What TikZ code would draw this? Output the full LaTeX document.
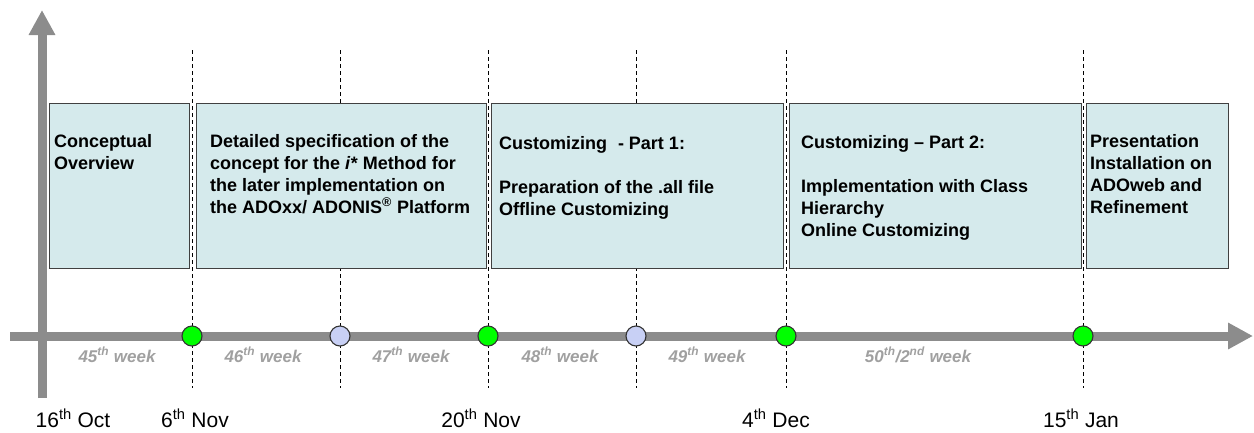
\documentclass[tikz,border=0pt]{standalone}
\usepackage{fontspec}
\setmainfont{Liberation Sans}
\usetikzlibrary{arrows.meta}
\definecolor{axisgray}{HTML}{8C8C8C}
\definecolor{boxfill}{HTML}{D5EAEC}
\definecolor{boxline}{HTML}{404040}
\definecolor{milegreen}{HTML}{00FF00}
\definecolor{mileblue}{HTML}{C8D0F5}
\definecolor{weekgray}{HTML}{A0A0A0}
\begin{document}
\begin{tikzpicture}[x=1pt,y=-1pt,
  axisline/.style={draw=axisgray, line width=9pt, -{Triangle[width=25pt,length=25pt]}},
  guide/.style={draw=black, line width=0.9pt, dash pattern=on 4pt off 3pt},
  phase/.style={rectangle, draw=boxline, line width=1.4pt, fill=boxfill, inner sep=0pt,
    anchor=north west, minimum height=165pt},
  phasetext/.style={anchor=north west, align=left, inner sep=0pt,
    font=\fontsize{18}{22}\selectfont\bfseries},
  milestone/.style={circle, draw=black!80, line width=1.1pt, minimum size=20pt, inner sep=0pt},
  week/.style={anchor=base, text=weekgray, font=\fontsize{17}{20}\selectfont\bfseries\itshape},
  date/.style={anchor=base, font=\fontsize{21}{24}\selectfont}]
\useasboundingbox (0,0) rectangle (1254,432);

% axes
\coordinate (xstart) at (10,336);
\coordinate (xend) at (1253,336);
\coordinate (ystart) at (42,398);
\coordinate (yend) at (42,10);
\draw[axisline] (xstart) -- (xend);
\draw[axisline] (ystart) -- (yend);

% dashed week separators
\foreach \i/\x in {1/192, 2/340, 3/488, 4/636, 5/786, 6/1083} {
  \coordinate (g\i t) at (\x,50);
  \coordinate (g\i b) at (\x,388);
  \draw[guide] (g\i t) -- (g\i b);
}

% project phases
\node[phase, minimum width=140pt] (b1) at (49,103) {};
\node[phase, minimum width=290pt] (b2) at (196,103) {};
\node[phase, minimum width=292pt] (b3) at (491,103) {};
\node[phase, minimum width=292pt] (b4) at (789,103) {};
\node[phase, minimum width=142pt] (b5) at (1086,103) {};

\node[phasetext] (t1) at (54,134) {Conceptual\\Overview};
\node[phasetext] (t2) at (210,134) {Detailed specification of the\\concept for the \textit{i*} Method for\\the later implementation on\\the ADOxx/ ADONIS\textsuperscript{®} Platform};
\node[phasetext] (t3) at (499,136) {Customizing\hspace{0.6em}- Part 1:\\[22pt]Preparation of the .all file\\Offline Customizing};
\node[phasetext] (t4) at (801,135) {Customizing -- Part 2:\\[22pt]Implementation with Class\\Hierarchy\\Online Customizing};
\node[phasetext] (t5) at (1090,134) {Presentation\\Installation on\\ADOweb and\\Refinement};

% milestones
\node[milestone, fill=milegreen] (m1) at (192,336) {};
\node[milestone, fill=mileblue]  (m2) at (340,336) {};
\node[milestone, fill=milegreen] (m3) at (488,336) {};
\node[milestone, fill=mileblue]  (m4) at (636,336) {};
\node[milestone, fill=milegreen] (m5) at (786,336) {};
\node[milestone, fill=milegreen] (m6) at (1083,336) {};

% week labels
\node[week] (w45) at (117,362) {45\textsuperscript{th} week};
\node[week] (w46) at (263,362) {46\textsuperscript{th} week};
\node[week] (w47) at (411,362) {47\textsuperscript{th} week};
\node[week] (w48) at (560,362) {48\textsuperscript{th} week};
\node[week] (w49) at (707,362) {49\textsuperscript{th} week};
\node[week] (w50) at (918,362) {50\textsuperscript{th}/2\textsuperscript{nd} week};

% dates
\node[date] (d1) at (73,427) {16\textsuperscript{th} Oct};
\node[date] (d2) at (195,427) {6\textsuperscript{th} Nov};
\node[date] (d3) at (481,427) {20\textsuperscript{th} Nov};
\node[date] (d4) at (776,427) {4\textsuperscript{th} Dec};
\node[date] (d5) at (1081,427) {15\textsuperscript{th} Jan};
\end{tikzpicture}
\end{document}
